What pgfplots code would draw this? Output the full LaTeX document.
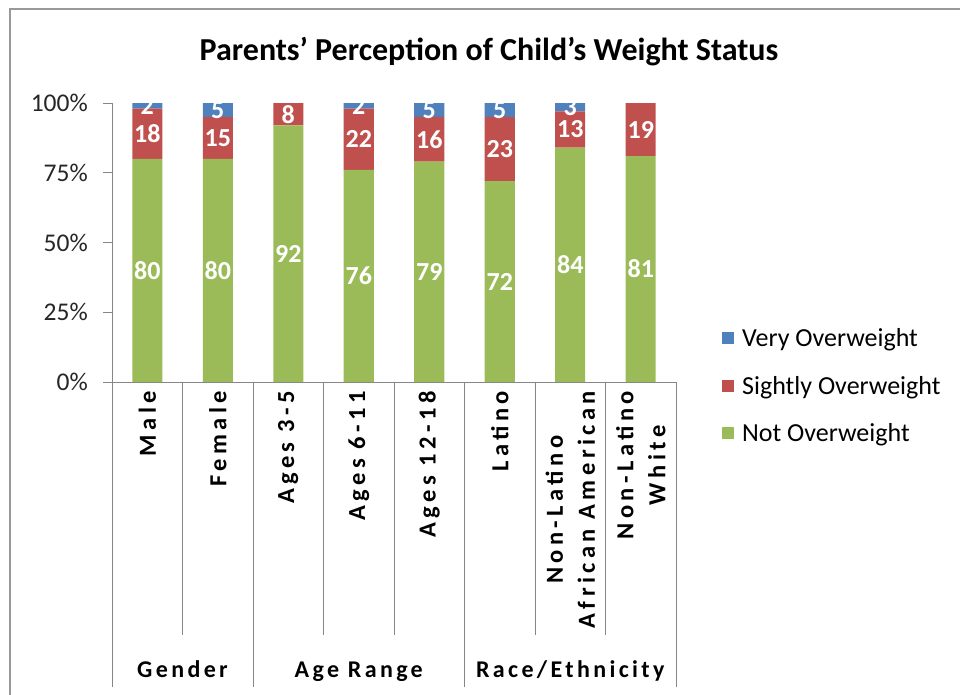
\documentclass[border=0pt]{standalone}
\usepackage{pgfplots}
\pgfplotsset{compat=1.18}
\usepackage{pgfplotstable}
\usepackage{fontspec}
\setmainfont{Carlito}
\newfontfamily\catfont[LetterSpace=18]{Carlito}
\newfontfamily\grpfont[LetterSpace=14]{Carlito}
\definecolor{vblue}{HTML}{4F81BD}
\definecolor{sred}{HTML}{C0504D}
\definecolor{ngreen}{HTML}{9BBB59}
\definecolor{axgray}{HTML}{868686}
\pgfplotstableread{
x g r b
0 80 18 2
1 80 15 5
2 92 8 0
3 76 22 2
4 79 16 5
5 72 23 5
6 84 13 3
7 81 19 0
}\datatable
\begin{document}
\begin{tikzpicture}
\draw[line width=2pt, gray!80] (10pt,-695pt) -- (10pt,-9pt) -- (960pt,-9pt);
\node[anchor=base, font=\bfseries\fontsize{32}{38}\selectfont] at (489pt,-61pt) {Parents’ Perception of Child’s Weight Status};
\begin{axis}[
  at={(112pt,-382pt)}, anchor=south west,
  width=564pt, height=279pt, scale only axis,
  xmin=-0.5, xmax=7.5, ymin=0, ymax=100,
  ybar stacked, bar width=30pt,
  axis lines*=left,
  axis line style={draw=axgray, line width=0.9pt, -},
  xtick={0,...,7},
  xticklabels={Male, Female, {Ages 3-5}, {Ages 6-11}, {Ages 12-18}, Latino, {Non-Latino\\African American}, {Non-Latino\\White}},
  x tick style={draw=none},
  ytick={0,25,50,75,100},
  yticklabels={0\%,25\%,50\%,75\%,100\%},
  y tick style={draw=axgray, line width=0.9pt},
  tick align=outside, major tick length=9pt,
  yticklabel style={font=\fontsize{25.5}{30}\selectfont, text=black!85, inner sep=0pt, xshift=-15pt},
  xticklabel style={yshift=0pt, rotate=90, anchor=east, align=center, inner sep=0pt,
     font=\catfont\bfseries\fontsize{24.5}{32}\selectfont, text=black},
  clip=false,
  legend style={at={(1.0815,-0.014)}, anchor=west, draw=none, fill=none, inner sep=0pt,
     font=\fontsize{26}{30}\selectfont, row sep=28pt, column sep=0pt,
     nodes={inner sep=0pt}, /tikz/every odd column/.append style={column sep=8pt}},
  legend cell align=left,
  legend image code/.code={\fill[#1,draw=none] (0pt,-6pt) rectangle (12pt,6pt);},
  reverse legend,
]
\addplot[fill=ngreen, draw=none] table[x=x, y=g] {\datatable};
\addlegendentry{Not Overweight}
\addplot[fill=sred, draw=none] table[x=x, y=r] {\datatable};
\addlegendentry{Sightly Overweight}
\addplot[fill=vblue, draw=none] table[x=x, y=b] {\datatable};
\addlegendentry{Very Overweight}
% category separators
\draw[axgray, line width=0.9pt] (axis cs:-0.5,0) -- ++(0pt,-305pt);
\draw[axgray, line width=0.9pt] (axis cs:1.5,0) -- ++(0pt,-305pt);
\draw[axgray, line width=0.9pt] (axis cs:4.5,0) -- ++(0pt,-305pt);
\draw[axgray, line width=0.9pt] (axis cs:7.5,0) -- ++(0pt,-305pt);
\draw[axgray, line width=0.9pt] (axis cs:0.5,0) -- ++(0pt,-253pt);
\draw[axgray, line width=0.9pt] (axis cs:2.5,0) -- ++(0pt,-253pt);
\draw[axgray, line width=0.9pt] (axis cs:3.5,0) -- ++(0pt,-253pt);
\draw[axgray, line width=0.9pt] (axis cs:5.5,0) -- ++(0pt,-253pt);
\draw[axgray, line width=0.9pt] (axis cs:6.5,0) -- ++(0pt,-253pt);
\node[anchor=base, yshift=-295pt, font=\grpfont\bfseries\fontsize{24}{26}\selectfont] at (axis cs:0.5,0) {Gender};
\node[anchor=base, yshift=-295pt, font=\grpfont\bfseries\fontsize{24}{26}\selectfont] at (axis cs:3,0) {Age Range};
\node[anchor=base, yshift=-295pt, font=\grpfont\bfseries\fontsize{24}{26}\selectfont] at (axis cs:6,0) {Race/Ethnicity};
\end{axis}
\begin{axis}[
  at={(112pt,-382pt)}, anchor=south west,
  width=564pt, height=279pt, scale only axis,
  xmin=-0.5, xmax=7.5, ymin=0, ymax=100,
  hide axis, clip=false,
  point meta=explicit,
  /pgf/number format/assume math mode=true,
  nodes near coords={\pgfmathfloatifflags{\pgfplotspointmeta}{0}{}{\pgfmathprintnumber{\pgfplotspointmeta}}},
  every node near coord/.style={anchor=center, text=white, inner sep=0pt, font=\bfseries\fontsize{26}{30}\selectfont},
]
\addplot[draw=none] table[x=x, y expr=\thisrow{g}/2, meta=g] {\datatable};
\addplot[draw=none] table[x=x, y expr=\thisrow{g}+\thisrow{r}/2, meta=r] {\datatable};
\addplot[draw=none] table[x=x, y expr=\thisrow{g}+\thisrow{r}+\thisrow{b}/2, meta=b] {\datatable};
\end{axis}
\pgfresetboundingbox
\path (0pt,0pt) rectangle (960pt,-695pt);
\end{tikzpicture}
\end{document}
